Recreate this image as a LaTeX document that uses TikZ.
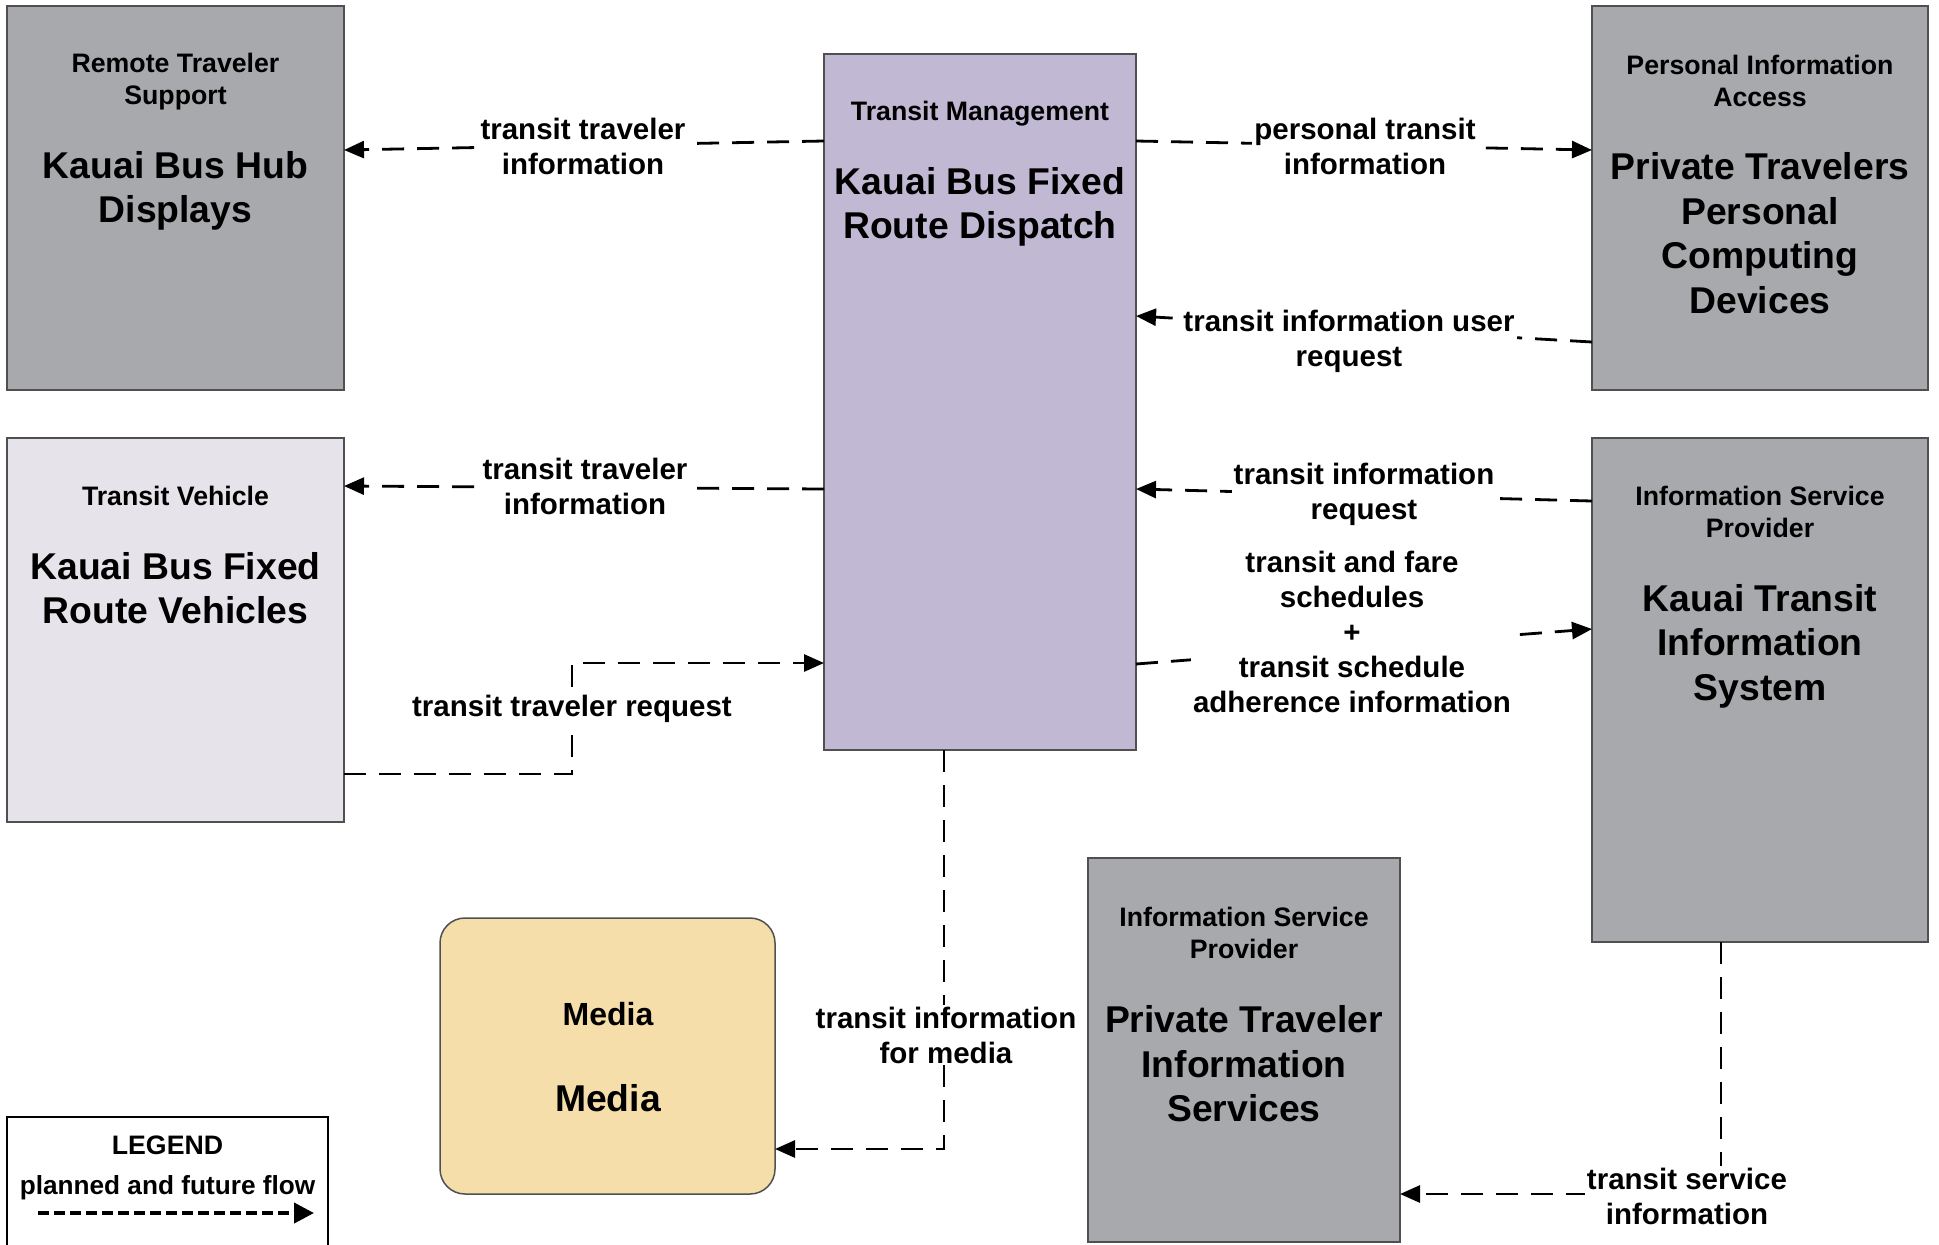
\documentclass[tikz,border=0pt]{standalone}
\usepackage{fontspec}
\setmainfont{Liberation Sans}
\usetikzlibrary{arrows.meta,calc}
\definecolor{boxgray}{HTML}{A7A9AC}
\definecolor{tmcol}{HTML}{C1B9D3}
\definecolor{tvcol}{HTML}{E6E3EA}
\definecolor{mediacol}{HTML}{F6DEAB}
\definecolor{edgecol}{HTML}{505050}
\begin{document}
\begin{tikzpicture}[x=1bp,y=-1bp,
  box/.style={draw=edgecol,line width=1.5bp,anchor=north west,inner sep=0pt,outer sep=0pt},
  hdr/.style={font=\fontsize{26.7bp}{32bp}\selectfont\bfseries,align=center,inner sep=0pt},
  ttl/.style={font=\fontsize{37.3bp}{44.5bp}\selectfont\bfseries,align=center,inner sep=0pt},
  lbl/.style={font=\fontsize{29.5bp}{35bp}\selectfont\bfseries,align=center,fill=white,inner sep=2bp},
  flow/.style={dash pattern=on 22bp off 13bp,line width=2.8bp,-{Triangle[length=20bp,width=17bp]}},
]
\useasboundingbox[fill=white] (0,0) rectangle (1939,1244);

% boxes
\node[box,fill=boxgray,minimum width=337bp,minimum height=384bp] (rem) at (7,6) {};
\node[box,fill=tmcol,minimum width=312bp,minimum height=696bp] (tm) at (824,54) {};
\node[box,fill=boxgray,minimum width=336bp,minimum height=384bp] (pia) at (1592,6) {};
\node[box,fill=tvcol,minimum width=337bp,minimum height=384bp] (tv) at (7,438) {};
\node[box,fill=boxgray,minimum width=336bp,minimum height=504bp] (isp) at (1592,438) {};
\node[box,fill=boxgray,minimum width=312bp,minimum height=384bp] (ptis) at (1088,858) {};
\node[box,fill=mediacol,rounded corners=25bp,minimum width=335bp,minimum height=276bp] (media) at (440,918) {};
\node[box,draw=black,line width=2.5bp,minimum width=321bp,minimum height=160bp] (legend) at (7,1117) {};

% box texts
\node[hdr] (remh) at (175.5,82) {Remote Traveler\\Support};
\node[ttl] (remt) at (175.5,191) {Kauai Bus Hub\\Displays};
\node[hdr] (tmh) at (980,114) {Transit Management};
\node[ttl] (tmt) at (980,207) {Kauai Bus Fixed\\Route Dispatch};
\node[hdr] (piah) at (1760,81) {Personal Information\\Access};
\node[ttl] (piat) at (1760,233) {Private Travelers\\Personal\\Computing\\Devices};
\node[hdr] (tvh) at (175.5,496) {Transit Vehicle};
\node[ttl] (tvt) at (175.5,588) {Kauai Bus Fixed\\Route Vehicles};
\node[hdr] (isph) at (1760,512) {Information Service\\Provider};
\node[ttl] (ispt) at (1760,646) {Kauai Transit\\Information\\System};
\node[hdr] (ptish) at (1244,932.5) {Information Service\\Provider};
\node[ttl] (ptist) at (1244,1064) {Private Traveler\\Information\\Services};
\node[hdr,font=\fontsize{32bp}{38bp}\selectfont\bfseries] (mediah) at (608,1014) {Media};
\node[ttl] (mediat) at (608,1098) {Media};
\node[hdr] (legh) at (167.5,1145) {LEGEND};
\node[hdr,font=\fontsize{26.2bp}{32bp}\selectfont\bfseries] (legt) at (167.5,1188) {planned and future flow};
\coordinate (lega) at (38,1213);
\coordinate (legb) at (314,1213);
\draw[dash pattern=on 11bp off 5bp,line width=4bp,-{Triangle[length=20bp,width=20bp]}] (lega) -- (legb);

% connectors
\draw[flow] ($(tm.north west)+(0,87)$) -- ($(rem.north east)+(0,144)$);
\draw[flow] ($(tm.north east)+(0,87)$) -- ($(pia.north west)+(0,144)$);
\draw[flow] ($(pia.north west)+(0,336)$) -- ($(tm.north east)+(0,262)$);
\draw[flow] ($(tm.north west)+(0,435)$) -- ($(tv.north east)+(0,48)$);
\draw[flow] ($(isp.north west)+(0,63)$) -- ($(tm.north east)+(0,435)$);
\draw[flow] ($(tm.north east)+(0,610)$) -- ($(isp.north west)+(0,191)$);
\draw[flow] ($(tv.north east)+(0,336)$) -| ($(tm.north west)+(-252,609)$) -- ($(tm.north west)+(0,609)$);
\draw[flow] ($(tm.south west)+(120,0)$) |- ($(media.north east)+(0,231)$);
\draw[flow] ($(isp.south west)+(129,0)$) |- ($(ptis.north east)+(0,336)$);

% connector labels
\node[lbl] (l1) at (583,146) {transit traveler\\information};
\node[lbl] (l2) at (1365,146) {personal transit\\information};
\node[lbl] (l3) at (1349,341) {transit information user\\request};
\node[lbl] (l4) at (585,486) {transit traveler\\information};
\node[lbl] (l5) at (1364,494) {transit information\\request};
\node[lbl] (l6) at (1352,632) {transit and fare\\schedules\\+\\transit schedule\\adherence information};
\node[lbl] (l7) at (572,709) {transit traveler request};
\node[lbl] (l8) at (946,1035) {transit information\\for media};
\node[lbl] (l9) at (1687,1196) {transit service\\information};
\end{tikzpicture}
\end{document}
